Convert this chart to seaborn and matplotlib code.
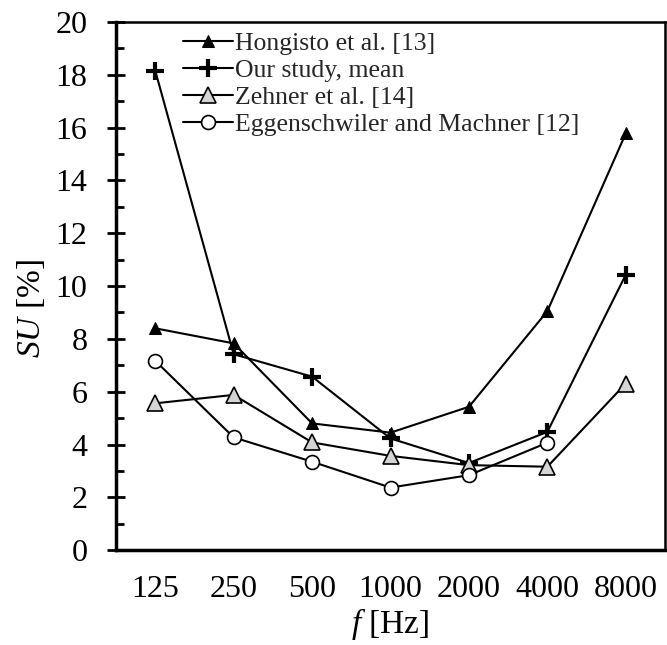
import numpy as np
import pandas as pd
import seaborn as sns
import matplotlib.pyplot as plt
from matplotlib.ticker import MultipleLocator, FixedLocator

# Data
freqs = ['125', '250', '500', '1000', '2000', '4000', '8000']
hongisto = [8.4, 7.83, 4.8, 4.45, 5.43, 9.05, 15.78]
our_study = [18.15, 7.42, 6.57, 4.23, 3.3, 4.48, 10.43]
zehner = [5.56, 5.88, 4.08, 3.57, 3.22, 3.16, 6.31]
eggenschwiler = [7.17, 4.27, 3.35, 2.37, 2.84, 4.07, np.nan]

sns.set_theme(style='white')
plt.rcParams['font.family'] = ['Liberation Serif', 'DejaVu Serif']
plt.rcParams['mathtext.fontset'] = 'custom'
plt.rcParams['mathtext.rm'] = 'Liberation Serif'
plt.rcParams['mathtext.it'] = 'Liberation Serif:italic'

series = [
    ('Hongisto et al. [13]', hongisto,
     dict(marker='^', markersize=9, markerfacecolor='black', markeredgecolor='black')),
    ('Our study, mean', our_study,
     dict(marker='+', markersize=13, markeredgewidth=3, markeredgecolor='black')),
    ('Zehner et al. [14]', zehner,
     dict(marker='^', markersize=11, markerfacecolor='#d4d4d4', markeredgecolor='black', markeredgewidth=1.2)),
    ('Eggenschwiler and Machner [12]', eggenschwiler,
     dict(marker='o', markersize=10, markerfacecolor='white', markeredgecolor='black', markeredgewidth=1.2)),
]

fig, ax = plt.subplots(figsize=(6.67, 6.45), dpi=100)
fig.subplots_adjust(left=0.174, right=0.997, top=0.966, bottom=0.147)

x = np.arange(len(freqs))
for label, vals, kw in series:
    df = pd.DataFrame({'x': x, 'y': vals})
    sns.lineplot(data=df, x='x', y='y', ax=ax, color='black', linewidth=1.5,
                 label=label, **kw)

ax.set_xlim(-0.5, len(freqs) - 0.5)
ax.set_ylim(0, 20)

# category boundaries carry the tick marks, labels sit in between
ax.xaxis.set_major_locator(FixedLocator(np.arange(-0.5, len(freqs), 1.0)))
ax.xaxis.set_minor_locator(FixedLocator(x))
ax.set_xticklabels([''] * (len(freqs) + 1))
ax.set_xticklabels(freqs, minor=True)
ax.tick_params(axis='x', which='major', direction='inout', length=12, width=2, color='black')
ax.tick_params(axis='x', which='minor', length=0, labelsize=23, pad=18, labelcolor='black')

ax.yaxis.set_major_locator(MultipleLocator(2))
ax.yaxis.set_minor_locator(MultipleLocator(1))
ax.tick_params(axis='y', which='major', direction='inout', length=13, width=2, pad=14,
               labelsize=23, color='black', labelcolor='black', left=True)
ax.tick_params(axis='y', which='minor', direction='in', length=6, width=2, color='black', left=True)

for side in ['left', 'bottom']:
    ax.spines[side].set_linewidth(2.5)
    ax.spines[side].set_color('black')
for side in ['top', 'right']:
    ax.spines[side].set_linewidth(1.8)
    ax.spines[side].set_color('black')

ax.set_xlabel(r'$\mathit{f}$ [Hz]', fontsize=24, color='black', labelpad=1)
ax.set_ylabel(r'$\mathit{SU}$ [%]', fontsize=24, color='black')
ax.yaxis.set_label_coords(-0.126, 0.458)

ax.legend(loc='upper left', bbox_to_anchor=(0.093, 1.01), frameon=False, fontsize=18.5,
          handlelength=1.95, handletextpad=0.08, labelspacing=0.16, borderaxespad=0.2)

fig.savefig('out.png', dpi=100)
